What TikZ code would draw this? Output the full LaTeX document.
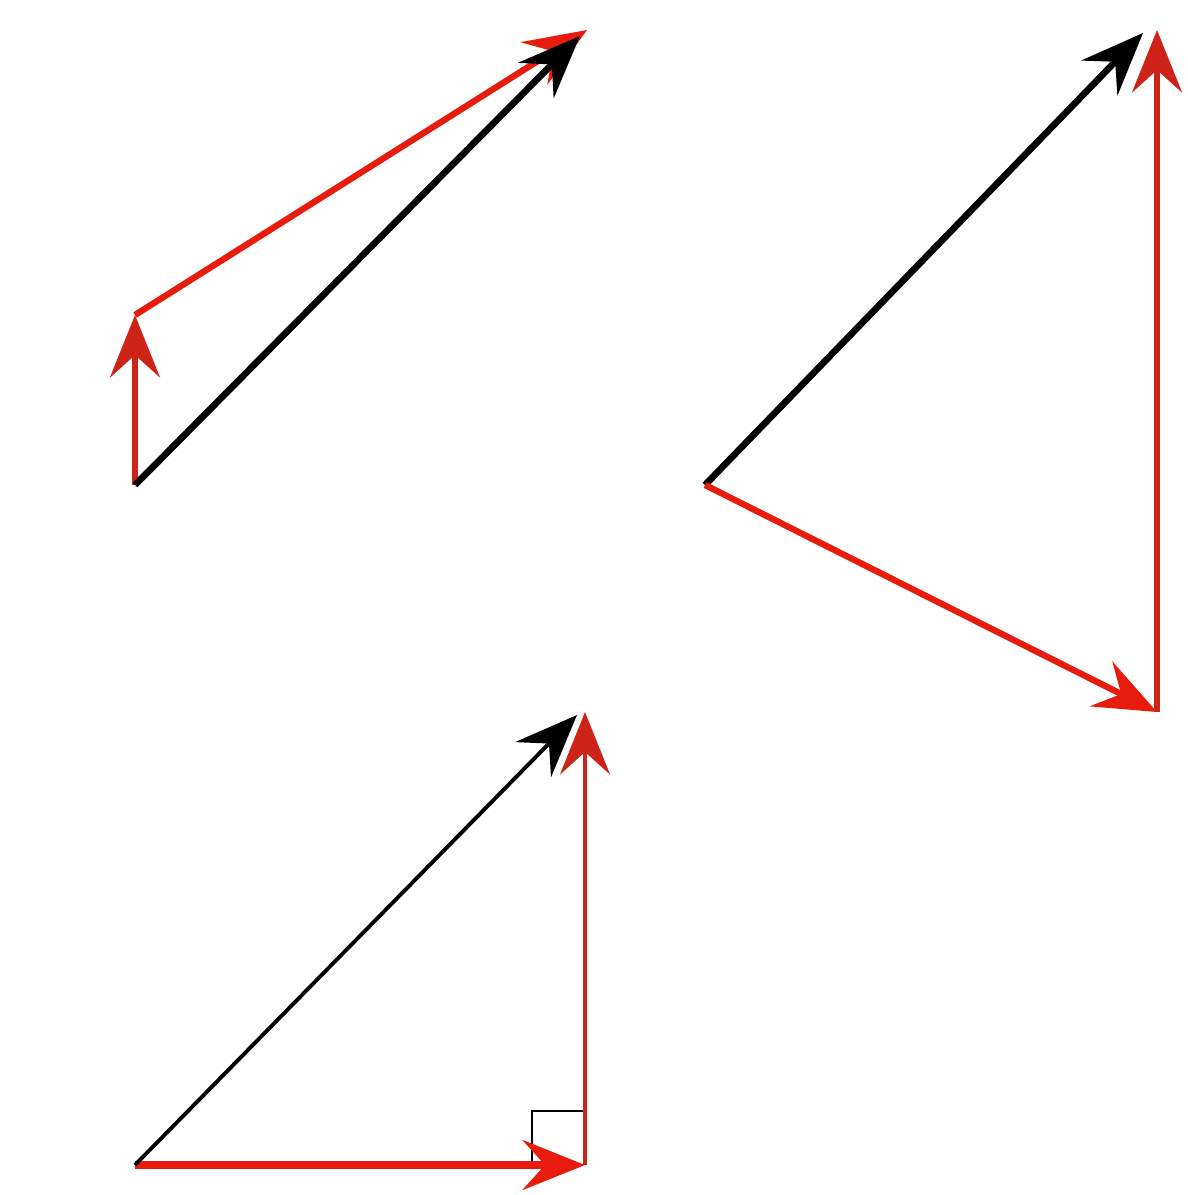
\documentclass[tikz,border=0pt]{standalone}
\usetikzlibrary{arrows.meta}
\definecolor{vred}{RGB}{232,28,12}
\definecolor{dred}{RGB}{205,35,25}
\begin{document}
\begin{tikzpicture}[x=0.02cm,y=-0.02cm,
  tip/.style={-{Stealth[length=1.25cm,width=1cm,inset=0.45cm]}},
  blk/.style={tip,draw=black,line width=3.8pt},
  rd/.style={tip,draw=vred,line width=3.6pt},
  rdthin/.style={tip,draw=dred,line width=2.2pt},
  blkthin/.style={tip,draw=black,line width=2.2pt}]
\useasboundingbox (0,0) rectangle (1187,1195);
% top-left
\coordinate (A0) at (135,485);
\coordinate (A1) at (135,315);
\coordinate (A2) at (587,30);
\coordinate (A3) at (580,36);
\draw[rdthin,draw=dred,line width=3.2pt] (A0) -- (A1);
\draw[rd] (A1) -- (A2);
\draw[blk] (A0) -- (A3);
% top-right
\coordinate (B0) at (705,485);
\coordinate (B1) at (1143,33);
\coordinate (B2) at (1157,712);
\coordinate (B3) at (1157,30);
\draw[blk] (B0) -- (B1);
\draw[rd] (B0) -- (B2);
\draw[rd,draw=dred] (B2) -- (B3);
% bottom
\coordinate (C0) at (135,1165);
\coordinate (C1) at (585,1165);
\coordinate (C2) at (585,712);
\coordinate (C3) at (577,715);
\draw[black,line width=1.6pt] (532,1165) -- (532,1111) -- (C1|-0,1111);
\draw[rd,line width=4.2pt] (C0) -- (C1);
\draw[rdthin] (C1) -- (C2);
\draw[blkthin] (C0) -- (C3);
\end{tikzpicture}
\end{document}
